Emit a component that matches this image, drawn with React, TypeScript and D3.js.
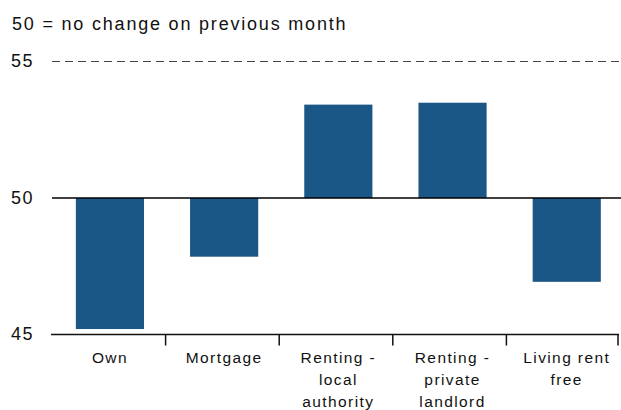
import { useEffect, useRef } from "react";
import * as d3 from "d3";

// housing tenure categories, each label split into lines
const categories = ["Own", "Mortgage", "Renting - local authority", "Renting - private landlord", "Living rent free"];
const labelLines = [["Own"], ["Mortgage"], ["Renting -", "local", "authority"], ["Renting -", "private", "landlord"], ["Living rent", "free"]];
const values = [45.2, 47.85, 53.42, 53.49, 46.93];
const yTicks = [45, 50, 55];

export default function App() {
  const ref = useRef<SVGSVGElement | null>(null);

  useEffect(() => {
    const svgEl = ref.current;
    if (!svgEl) return;

    const width = 621;
    const height = 410;
    const font = "'Liberation Sans', Arial, sans-serif";

    const svg = d3.select(svgEl);
    svg.selectAll("*").remove();
    svg.attr("width", width).attr("height", height);

    const x = d3.scaleBand<string>().domain(categories).range([52, 620]).padding(0);
    const y = d3.scaleLinear().domain([45, 55]).range([334.5, 61.5]);
    const step = x.step();

    // title note
    svg.append("text")
      .attr("x", 12).attr("y", 30)
      .attr("font-family", font).attr("font-size", 18)
      .attr("letter-spacing", 1.8)
      .attr("fill", "#111")
      .text("50 = no change on previous month");

    // dashed gridline at 55
    svg.append("line")
      .attr("x1", 52).attr("x2", width)
      .attr("y1", y(55)).attr("y2", y(55))
      .attr("stroke", "#444").attr("stroke-width", 1)
      .attr("stroke-dasharray", "8,5");

    // bars from the 50 baseline (sit slightly right of band centre, as in the source)
    svg.selectAll("rect.bar")
      .data(values)
      .enter()
      .append("rect")
      .attr("class", "bar")
      .attr("x", (_, i) => x(categories[i])! + step * 0.21 + i * 0.6)
      .attr("width", step * 0.6)
      .attr("y", (d) => Math.min(y(d), y(50)))
      .attr("height", (d) => Math.abs(y(d) - y(50)))
      .attr("fill", "#1a5686");

    // baseline at 50
    svg.append("line")
      .attr("x1", 52).attr("x2", width)
      .attr("y1", y(50)).attr("y2", y(50))
      .attr("stroke", "#000").attr("stroke-width", 1.5);

    // bottom axis at 45
    svg.append("line")
      .attr("x1", 51).attr("x2", 619)
      .attr("y1", y(45)).attr("y2", y(45))
      .attr("stroke", "#111").attr("stroke-width", 1.5);

    // category separator ticks
    svg.selectAll("line.tick")
      .data(categories)
      .enter()
      .append("line")
      .attr("class", "tick")
      .attr("x1", (d) => Math.min(x(d)! + step, 618)).attr("x2", (d) => Math.min(x(d)! + step, 618))
      .attr("y1", y(45)).attr("y2", y(45) + 11)
      .attr("stroke", "#111").attr("stroke-width", 1.5);

    // y tick labels
    svg.selectAll("text.ytick")
      .data(yTicks)
      .enter()
      .append("text")
      .attr("class", "ytick")
      .attr("x", 34).attr("y", (d) => y(d))
      .attr("dy", "0.32em")
      .attr("text-anchor", "end")
      .attr("font-family", font).attr("font-size", 18)
      .attr("letter-spacing", 1.5)
      .attr("fill", "#111")
      .text((d) => d);

    // category labels, multi-line
    const lab = svg.selectAll("text.cat")
      .data(categories)
      .enter()
      .append("text")
      .attr("class", "cat")
      .attr("text-anchor", "middle")
      .attr("font-family", font).attr("font-size", 15.5)
      .attr("letter-spacing", 1.4)
      .attr("fill", "#111");
    lab.each(function (d, i) {
      const t = d3.select(this);
      labelLines[i].forEach((line, j) => {
        t.append("tspan")
          .attr("x", x(d)! + step * 0.51 + i * 0.6)
          .attr("y", 363 + j * 22)
          .text(line);
      });
    });
  }, []);

  return (
    <svg ref={ref} style={{ position: "absolute", left: 0, top: 0, background: "#fff" }} />
  );
}
